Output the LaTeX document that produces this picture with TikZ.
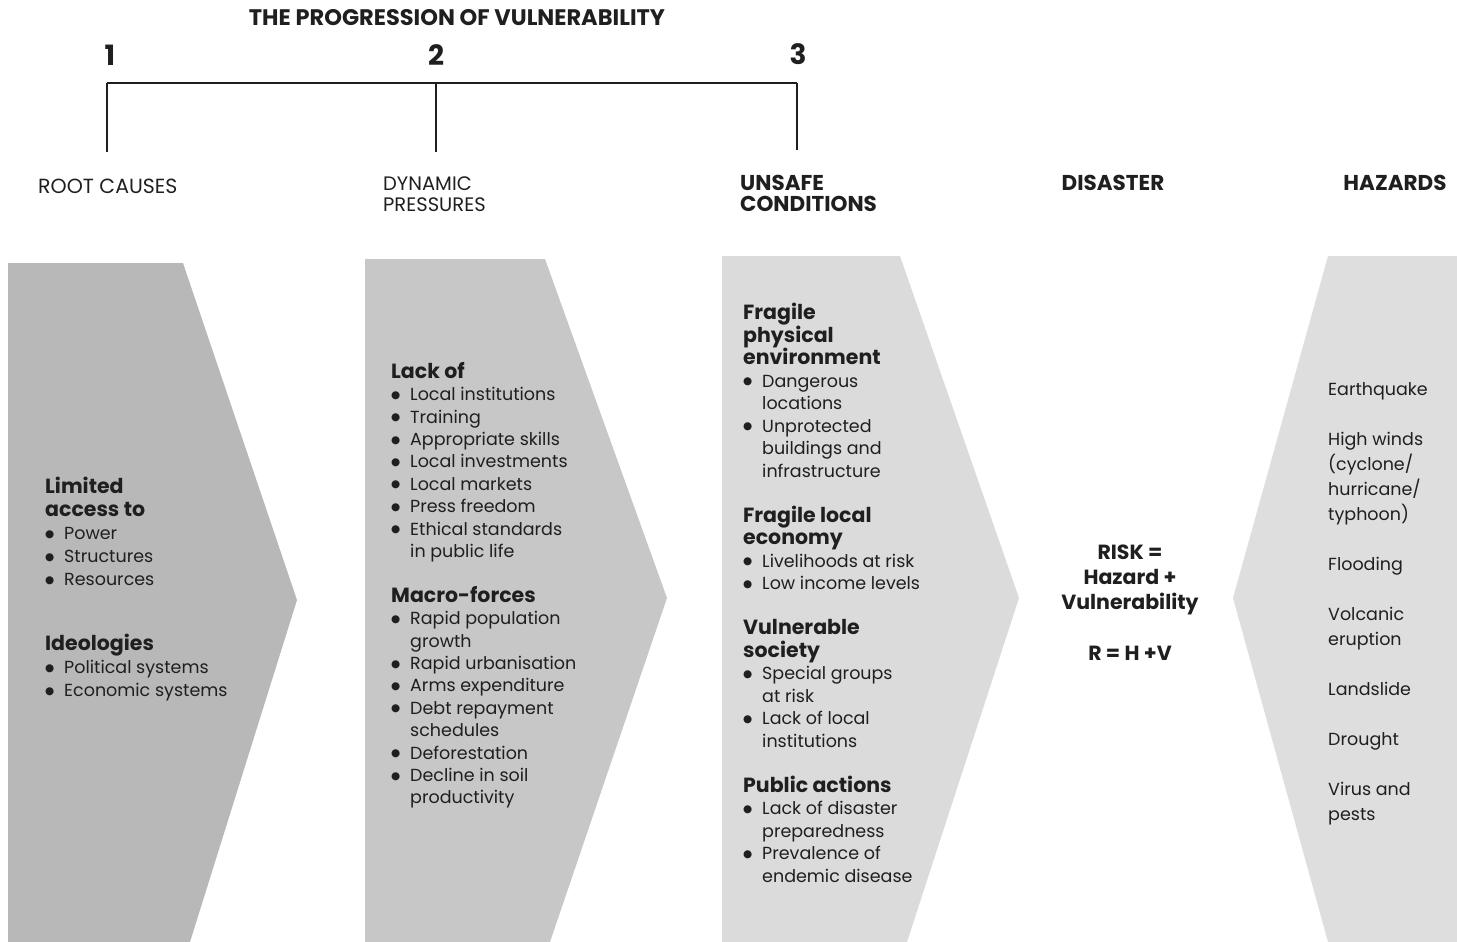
\documentclass[tikz,border=0pt]{standalone}
\usepackage{fontspec}
\setmainfont{Poppins}
\newfontfamily\symfont{DejaVu Sans}
\definecolor{shadeA}{gray}{0.72}
\definecolor{shadeB}{gray}{0.78}
\definecolor{shadeC}{gray}{0.86}
\definecolor{shadeD}{gray}{0.87}
\definecolor{inkc}{gray}{0.12}
\newcommand{\mydot}{\raisebox{2.3pt}{\symfont\fontsize{10.5}{10}\selectfont ●}}
\newcommand{\myitem}[1]{\makebox[19pt][l]{\mydot}#1}
\newcommand{\mycont}[1]{\hspace*{19pt}#1}
\newcommand{\hd}[1]{{\bfseries\fontsize{20.5}{22}\selectfont #1}}
\tikzset{
  band/.style={draw=none},
  body/.style={anchor=north west, align=left, inner sep=0pt, text=inkc,
    font=\fontsize{17.5}{22.4}\selectfont},
  bodywide/.style={body, font=\fontsize{17.5}{22.5}\selectfont},
  bodyloose/.style={body, font=\fontsize{17.5}{23}\selectfont},
  hazlist/.style={anchor=north west, align=left, inner sep=0pt, text=inkc,
    font=\fontsize{17.5}{25}\selectfont},
  riskbox/.style={anchor=north, align=center, inner sep=0pt, text=inkc,
    font=\bfseries\fontsize{20.5}{25}\selectfont},
  stagelight/.style={inner sep=0pt, align=left, text=inkc,
    font=\fontsize{20.5}{21}\selectfont},
  stagebold/.style={inner sep=0pt, align=left, text=inkc,
    font=\bfseries\fontsize{21.5}{21}\selectfont},
  numlabel/.style={inner sep=0pt, text=inkc, font=\bfseries\fontsize{28}{30}\selectfont},
  titlelabel/.style={inner sep=0pt, text=inkc, font=\bfseries\fontsize{22.5}{22}\selectfont},
  bracketmain/.style={line width=2.3pt, inkc},
  brackettick/.style={line width=1.3pt, inkc}
}
\begin{document}
\begin{tikzpicture}[x=1pt,y=-1pt]
\useasboundingbox (0,0) rectangle (1457,942);
% shaded chevrons
\fill[shadeA] (8,263) -- (183,263) -- (297,600) -- (190,942) -- (8,942) -- cycle;
\fill[shadeB] (365,259) -- (545,259) -- (667,598) -- (550,942) -- (365,942) -- cycle;
\fill[shadeC] (722,256) -- (900,256) -- (1019,598) -- (907,942) -- (722,942) -- cycle;
\fill[shadeD] (1328,256) -- (1457,256) -- (1457,942) -- (1328,942) -- (1233,598) -- cycle;

% title and numbers
\node[titlelabel] (title) at (457,18) {THE PROGRESSION OF VULNERABILITY};
\node[numlabel] (n1) at (110,55) {1};
\node[numlabel] (n2) at (436,55) {2};
\node[numlabel] (n3) at (798,54) {3};

% bracket
\coordinate (t1) at (107,83);
\coordinate (t2) at (436,83);
\coordinate (t3) at (797,83);
\coordinate (b1) at (107,152);
\coordinate (b2) at (436,152);
\coordinate (b3) at (797,150);
\draw[bracketmain] (t1) -- (t3);
\draw[brackettick] (t1) -- (b1);
\draw[brackettick] (t2) -- (b2);
\draw[brackettick] (t3) -- (b3);

% stage labels
\node[stagelight, anchor=west] (root) at (38,186) {ROOT CAUSES};
\node[stagelight, anchor=north west, font=\fontsize{19.5}{21}\selectfont] (dyn) at (383,177) {DYNAMIC\\PRESSURES};
\node[stagebold, anchor=north west] (unsafe) at (740,175) {UNSAFE\\CONDITIONS};
\node[stagebold] (disaster) at (1113,183) {DISASTER};
\node[stagebold] (hazards) at (1395,183) {HAZARDS};

% column 1
\node[bodyloose] (c1) at (45,477) {\hd{Limited}\\
\hd{access to}\\
\myitem{Power}\\
\myitem{Structures}\\
\myitem{Resources}\\[42pt]
\hd{Ideologies}\\
\myitem{Political systems}\\
\myitem{Economic systems}};

% column 2
\node[body] (c2) at (391,362) {\hd{Lack of}\\
\myitem{Local institutions}\\
\myitem{Training}\\
\myitem{Appropriate skills}\\
\myitem{Local investments}\\
\myitem{Local markets}\\
\myitem{Press freedom}\\
\myitem{Ethical standards}\\
\mycont{in public life}\\[22.4pt]
\hd{Macro-forces}\\
\myitem{Rapid population}\\
\mycont{growth}\\
\myitem{Rapid urbanisation}\\
\myitem{Arms expenditure}\\
\myitem{Debt repayment}\\
\mycont{schedules}\\
\myitem{Deforestation}\\
\myitem{Decline in soil}\\
\mycont{productivity}};

% column 3
\node[bodywide] (c3) at (743,303) {\hd{Fragile}\\
\hd{physical}\\
\hd{environment}\\
\myitem{Dangerous}\\
\mycont{locations}\\
\myitem{Unprotected}\\
\mycont{buildings and}\\
\mycont{infrastructure}\\[22.5pt]
\hd{Fragile local}\\
\hd{economy}\\
\myitem{Livelihoods at risk}\\
\myitem{Low income levels}\\[22.5pt]
\hd{Vulnerable}\\
\hd{society}\\
\myitem{Special groups}\\
\mycont{at risk}\\
\myitem{Lack of local}\\
\mycont{institutions}\\[22.5pt]
\hd{Public actions}\\
\myitem{Lack of disaster}\\
\mycont{preparedness}\\
\myitem{Prevalence of}\\
\mycont{endemic disease}};

% risk
\node[riskbox] (risk) at (1130,545) {RISK =\\
Hazard +\\
Vulnerability\\[26pt]
R = H +V};

% hazards list
\node[hazlist] (hz) at (1328,382) {Earthquake\\[25pt]
High winds\\
(cyclone/\\
hurricane/\\
typhoon)\\[25pt]
Flooding\\[25pt]
Volcanic\\
eruption\\[25pt]
Landslide\\[25pt]
Drought\\[25pt]
Virus and\\
pests};
\end{tikzpicture}
\end{document}
